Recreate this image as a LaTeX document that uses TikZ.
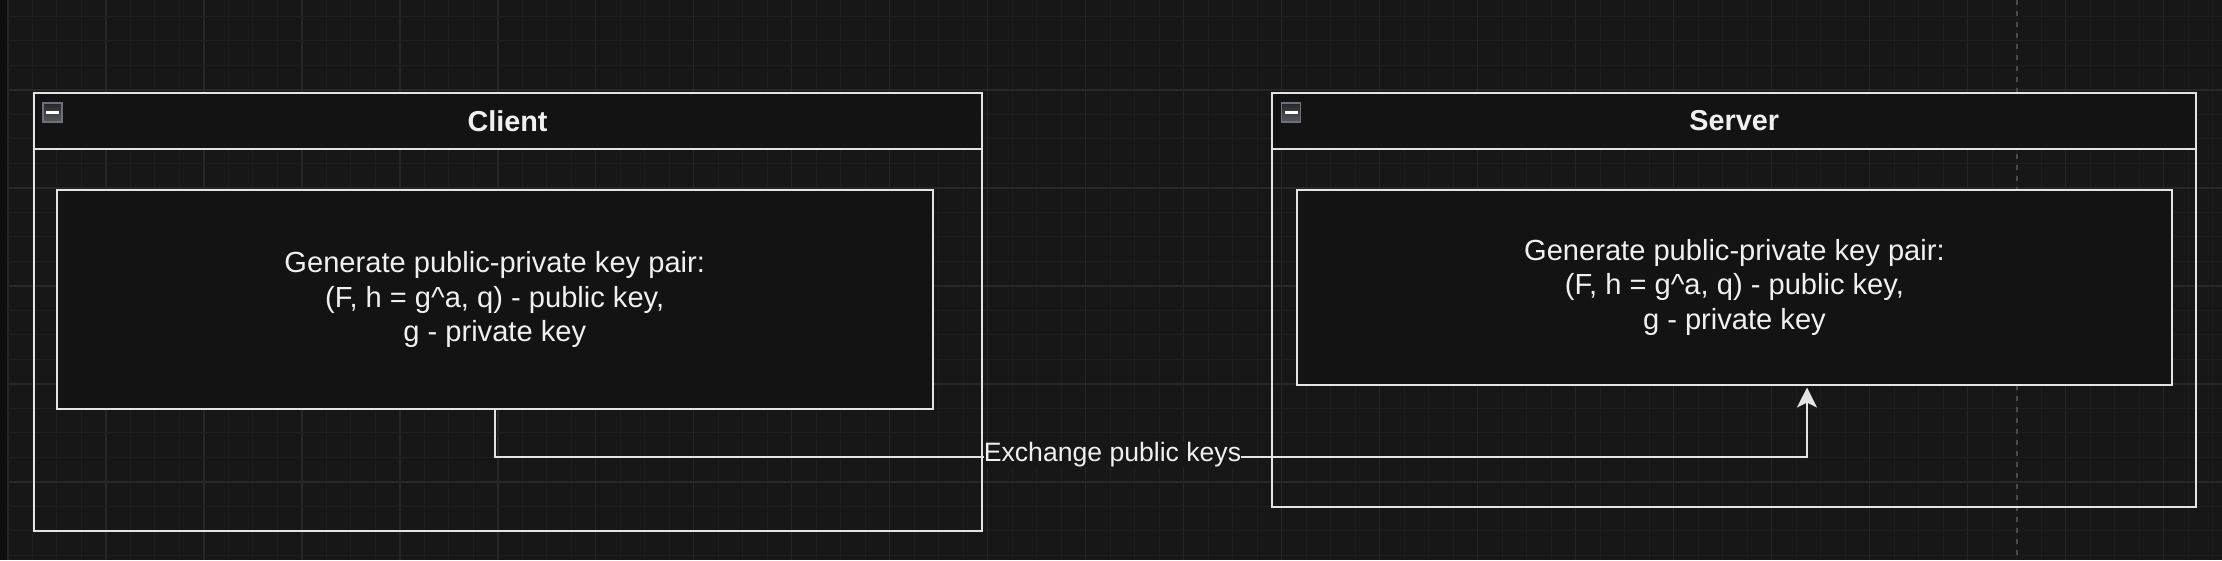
\documentclass[tikz,border=0pt]{standalone}
\usepackage{fontspec}
\setmainfont{Liberation Sans}
\usetikzlibrary{arrows.meta,calc}
\definecolor{canvas}{HTML}{171717}
\definecolor{boxfill}{HTML}{131313}
\definecolor{gridminor}{HTML}{1E1E1E}
\definecolor{gridmajor}{HTML}{272727}
\definecolor{guide}{HTML}{4A4A4A}
\definecolor{edge}{HTML}{E4E4E4}
\definecolor{txt}{HTML}{F0F0F0}
\definecolor{iconborder}{HTML}{6B7080}
\tikzset{
  container/.style={draw=edge, line width=2pt, rectangle, inner sep=0pt, anchor=north west},
  headerbox/.style={draw=edge, fill=boxfill, line width=2pt, rectangle, inner sep=0pt, anchor=north west,
    text=txt, font=\fontsize{28.8}{34.56}\selectfont\bfseries},
  stepbox/.style={draw=edge, fill=boxfill, line width=2pt, rectangle, inner sep=0pt, anchor=north west,
    text=txt, align=center, font=\fontsize{29.1}{34.6}\selectfont},
  minusicon/.style={draw=iconborder, line width=1.5pt, minimum size=19pt, inner sep=0pt,
    top color=black!85, bottom color=black!65},
  minusbar/.style={draw=white, line width=2.5pt},
  conn/.style={draw=edge, line width=2pt, -{Stealth[length=20pt,width=20pt,inset=5pt]}},
  edgelabel/.style={fill=canvas, text=txt, inner sep=0pt, font=\fontsize{26.6}{32}\selectfont},
}
\begin{document}
\begin{tikzpicture}[x=1pt,y=-1pt]
\useasboundingbox (0,0) rectangle (2222,560);
\fill[canvas] (0,0) rectangle (2222,560);
% grid
\foreach \k in {0,...,90} {
  \pgfmathtruncatemacro{\m}{mod(\k,4)}
  \ifnum\m=0
    \draw[gridmajor, line width=1.2pt] ({8+\k*24.495},0) -- ({8+\k*24.495},560);
  \else
    \draw[gridminor, line width=1pt] ({8+\k*24.495},0) -- ({8+\k*24.495},560);
  \fi
}
\foreach \k in {1,...,23} {
  \pgfmathtruncatemacro{\m}{mod(\k,4)}
  \ifnum\m=0
    \draw[gridmajor, line width=1.2pt] (0,{-8+\k*24.495}) -- (2222,{-8+\k*24.495});
  \else
    \draw[gridminor, line width=1pt] (0,{-8+\k*24.495}) -- (2222,{-8+\k*24.495});
  \fi
}
\draw[guide, line width=1.5pt, dash pattern=on 5pt off 6pt] (2017,0) -- (2017,560);
\fill[black!40!canvas] (0,0) rectangle (7,560);

% Client
\node[container, minimum width=947.9pt, minimum height=437.5pt] (client) at (32.6,92) {};
\node[headerbox, minimum width=947.9pt, minimum height=56pt] (clienthead) at (32.6,92) {Client};
\node[minusicon] (clientmin) at (52.5,112.5) {};
\draw[minusbar] ($(clientmin.center)+(-6.5,0)$) -- ($(clientmin.center)+(6.5,0)$);
\node[stepbox, minimum width=875.5pt, minimum height=219.3pt] (clientinner) at (56,189)
  {Generate public-private key pair:\\(F, h = g\^{}a, q) - public key,\\g - private key};

% Server
\node[container, minimum width=924pt, minimum height=413.5pt] (server) at (1271.3,92) {};
\node[headerbox, minimum width=924pt, minimum height=56pt] (serverhead) at (1271.3,92) {Server};
\node[minusicon] (servermin) at (1291.2,112.5) {};
\draw[minusbar] ($(servermin.center)+(-6.5,0)$) -- ($(servermin.center)+(6.5,0)$);
\node[stepbox, minimum width=875.2pt, minimum height=194.5pt] (serverinner) at (1295.8,189)
  {Generate public-private key pair:\\(F, h = g\^{}a, q) - public key,\\g - private key};

% Connector
\coordinate (bend) at (1807,456.7);
\draw[conn, shorten >=2pt] (clientinner.south) |- (bend) -- (bend |- serverinner.south);
\node[edgelabel, anchor=base] (xlabel) at (1112.5,461) {Exchange public keys};
\end{tikzpicture}
\end{document}
